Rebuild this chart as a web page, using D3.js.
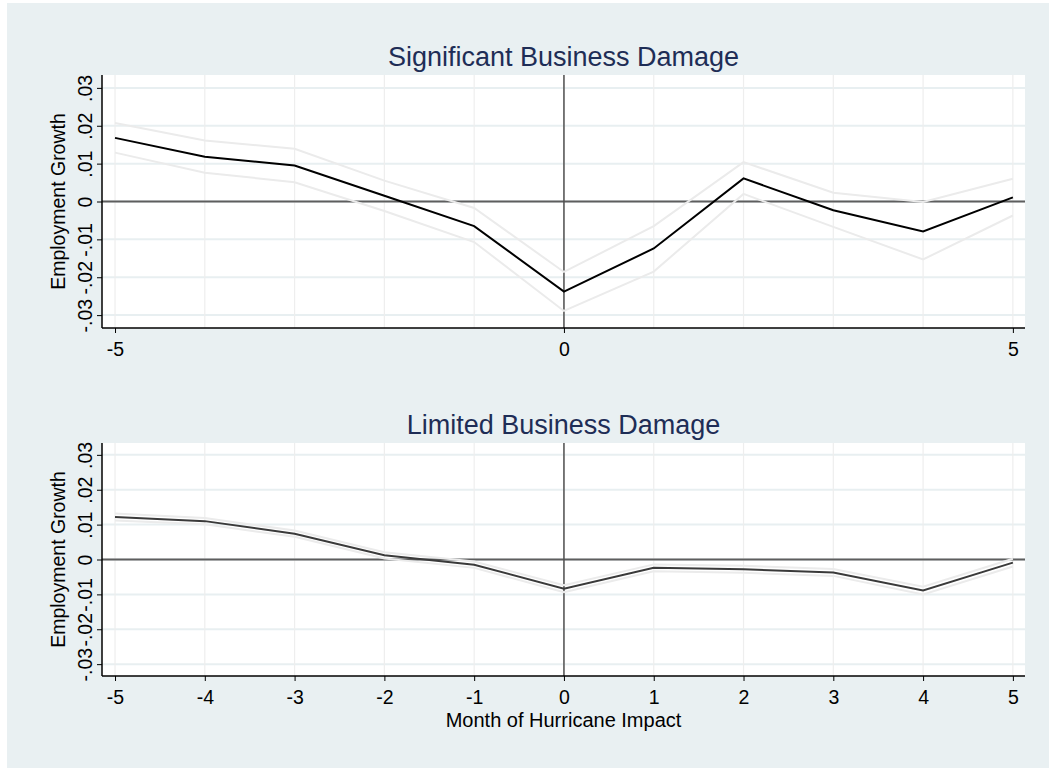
<!DOCTYPE html>
<html>
<head>
<meta charset="utf-8">
<script src="https://cdn.jsdelivr.net/npm/d3@7"></script>
<style>
    body { margin: 0; background: #ffffff; }
    svg text { font-family: "Liberation Sans", Arial, Helvetica, sans-serif; }
</style>
</head>
<body>
<svg id="chart"></svg>
<script>
// months relative to hurricane impact
const months = [-5, -4, -3, -2, -1, 0, 1, 2, 3, 4, 5];

// significant business damage: coefficient and confidence band
const sigCoef  = [0.0168, 0.0118, 0.0095, 0.0015, -0.0065, -0.0238, -0.0124, 0.0061, -0.0023, -0.0079, 0.0011];
const sigUpper = [0.0207, 0.0161, 0.0139, 0.0055, -0.0017, -0.0186, -0.0065, 0.0104, 0.0023, -0.0001, 0.0060];
const sigLower = [0.0129, 0.0076, 0.0051, -0.0025, -0.0107, -0.0289, -0.0185, 0.0020, -0.0067, -0.0153, -0.0037];

// limited business damage
const limCoef  = [0.0122, 0.0110, 0.0074, 0.0012, -0.0015, -0.0084, -0.0024, -0.0028, -0.0037, -0.0089, -0.0009];
const limUpper = [0.0132, 0.0119, 0.0083, 0.0021, -0.0006, -0.0074, -0.0014, -0.0018, -0.0027, -0.0078, 0.0002];
const limLower = [0.0112, 0.0101, 0.0065, 0.0003, -0.0024, -0.0094, -0.0034, -0.0038, -0.0047, -0.0100, -0.0020];

const yTicks = [-0.03, -0.02, -0.01, 0, 0.01, 0.02, 0.03];
const topXTicks = [-5, 0, 5];
const bottomXTicks = months;

const svg = d3.select('#chart')
    .attr('width', 1049)
    .attr('height', 768);

// stata style graph region
svg.append('rect')
    .attr('x', 7)
    .attr('y', 3)
    .attr('width', 1042)
    .attr('height', 765)
    .attr('fill', '#e9f0f2');

// stata labels use a plain hyphen and drop the leading zero
const yFormat = d => d === 0 ? '0' : String(d).replace('0.', '.');
const xFormat = d => String(d);

class EventStudyPanel {

    constructor(_config, _data) {
        this.config = {
            top: _config.top,
            left: _config.left || 102,
            width: _config.width || 923,
            height: _config.height,
            title: _config.title,
            xTitle: _config.xTitle,
            xTicks: _config.xTicks,
            lineColor: _config.lineColor || '#000'
        }
        this.data = _data;
        this.initVis();
    }

    initVis() {
        let vis = this;

        vis.xScale = d3.scaleLinear()
            .domain([-5.145, 5.135])
            .range([0, vis.config.width]);
        vis.yScale = d3.scaleLinear()
            .domain([-0.0334, 0.0334])
            .range([vis.config.height, 0]);

        vis.chart = svg.append('g')
            .attr('transform', `translate(${vis.config.left},${vis.config.top})`);

        vis.chart.append('rect')
            .attr('width', vis.config.width)
            .attr('height', vis.config.height)
            .attr('fill', '#fff');

        vis.renderVis();
    }

    renderVis() {
        let vis = this;
        const h = vis.config.height;

        // gridlines
        vis.chart.selectAll('.hgrid')
            .data(yTicks)
            .join('line')
            .attr('class', 'hgrid')
            .attr('x1', 0)
            .attr('x2', vis.config.width)
            .attr('y1', d => vis.yScale(d))
            .attr('y2', d => vis.yScale(d))
            .attr('stroke', '#e8eff1')
            .attr('stroke-width', 2);

        vis.chart.selectAll('.vgrid')
            .data(months)
            .join('line')
            .attr('class', 'vgrid')
            .attr('x1', d => vis.xScale(d))
            .attr('x2', d => vis.xScale(d))
            .attr('y1', 0)
            .attr('y2', h)
            .attr('stroke', '#eeeeee')
            .attr('stroke-width', 1.2);

        // reference lines
        vis.chart.append('line')
            .attr('x1', 0)
            .attr('x2', vis.config.width)
            .attr('y1', vis.yScale(0))
            .attr('y2', vis.yScale(0))
            .attr('stroke', '#5e5e5e')
            .attr('stroke-width', 2);

        vis.chart.append('line')
            .attr('x1', vis.xScale(0))
            .attr('x2', vis.xScale(0))
            .attr('y1', 0)
            .attr('y2', h)
            .attr('stroke', '#505050')
            .attr('stroke-width', 1.5);

        const line = d3.line()
            .x(d => vis.xScale(d[0]))
            .y(d => vis.yScale(d[1]));

        // confidence band lines
        [vis.data.upper, vis.data.lower].forEach(series => {
            vis.chart.append('path')
                .datum(months.map((m, i) => [m, series[i]]))
                .attr('d', line)
                .attr('fill', 'none')
                .attr('stroke', '#ebebeb')
                .attr('stroke-width', 2);
        });

        vis.chart.append('path')
            .datum(months.map((m, i) => [m, vis.data.coef[i]]))
            .attr('d', line)
            .attr('fill', 'none')
            .attr('stroke', vis.config.lineColor)
            .attr('stroke-width', 2);

        // axes
        vis.yAxis = d3.axisLeft(vis.yScale)
            .tickValues(yTicks)
            .tickSize(5)
            .tickFormat(yFormat);

        vis.xAxis = d3.axisBottom(vis.xScale)
            .tickValues(vis.config.xTicks)
            .tickSize(5)
            .tickPadding(9)
            .tickFormat(xFormat);

        vis.yAxisG = vis.chart.append('g')
            .call(vis.yAxis)
            .call(g => g.select('.domain').attr('d', `M0,0V${h}`).attr('stroke-width', 1.5));
        vis.yAxisG.selectAll('text')
            .attr('transform', 'rotate(-90)')
            .attr('x', 0)
            .attr('y', -17)
            .attr('dy', '0.35em')
            .style('text-anchor', 'middle')
            .style('font-size', '19.5px')
            .attr('fill', '#000');

        vis.xAxisG = vis.chart.append('g')
            .attr('transform', `translate(0,${h})`)
            .call(vis.xAxis)
            .call(g => g.select('.domain').attr('d', `M0,0H${vis.config.width}`).attr('stroke-width', 1.5));
        vis.xAxisG.selectAll('text')
            .style('font-size', '19.5px')
            .attr('fill', '#000');

        vis.chart.append('text')
            .attr('transform', `translate(-44,${h / 2}) rotate(-90)`)
            .attr('dy', '0.35em')
            .style('text-anchor', 'middle')
            .style('font-size', '19.5px')
            .text('Employment Growth');

        vis.chart.append('text')
            .attr('x', vis.config.width / 2)
            .attr('y', -9)
            .style('text-anchor', 'middle')
            .style('font-size', '27px')
            .attr('fill', '#1e2d56')
            .text(vis.config.title);

        if (vis.config.xTitle) {
            vis.chart.append('text')
                .attr('x', vis.config.width / 2)
                .attr('y', h + 51)
                .style('text-anchor', 'middle')
                .style('font-size', '20px')
                .text(vis.config.xTitle);
        }
    }
}

new EventStudyPanel({
    top: 75,
    height: 253,
    title: 'Significant Business Damage',
    xTicks: topXTicks,
    lineColor: '#000'
}, { coef: sigCoef, upper: sigUpper, lower: sigLower });

new EventStudyPanel({
    top: 443,
    height: 233,
    title: 'Limited Business Damage',
    xTitle: 'Month of Hurricane Impact',
    xTicks: bottomXTicks,
    lineColor: '#3a3a3a'
}, { coef: limCoef, upper: limUpper, lower: limLower });
</script>
</body>
</html>
